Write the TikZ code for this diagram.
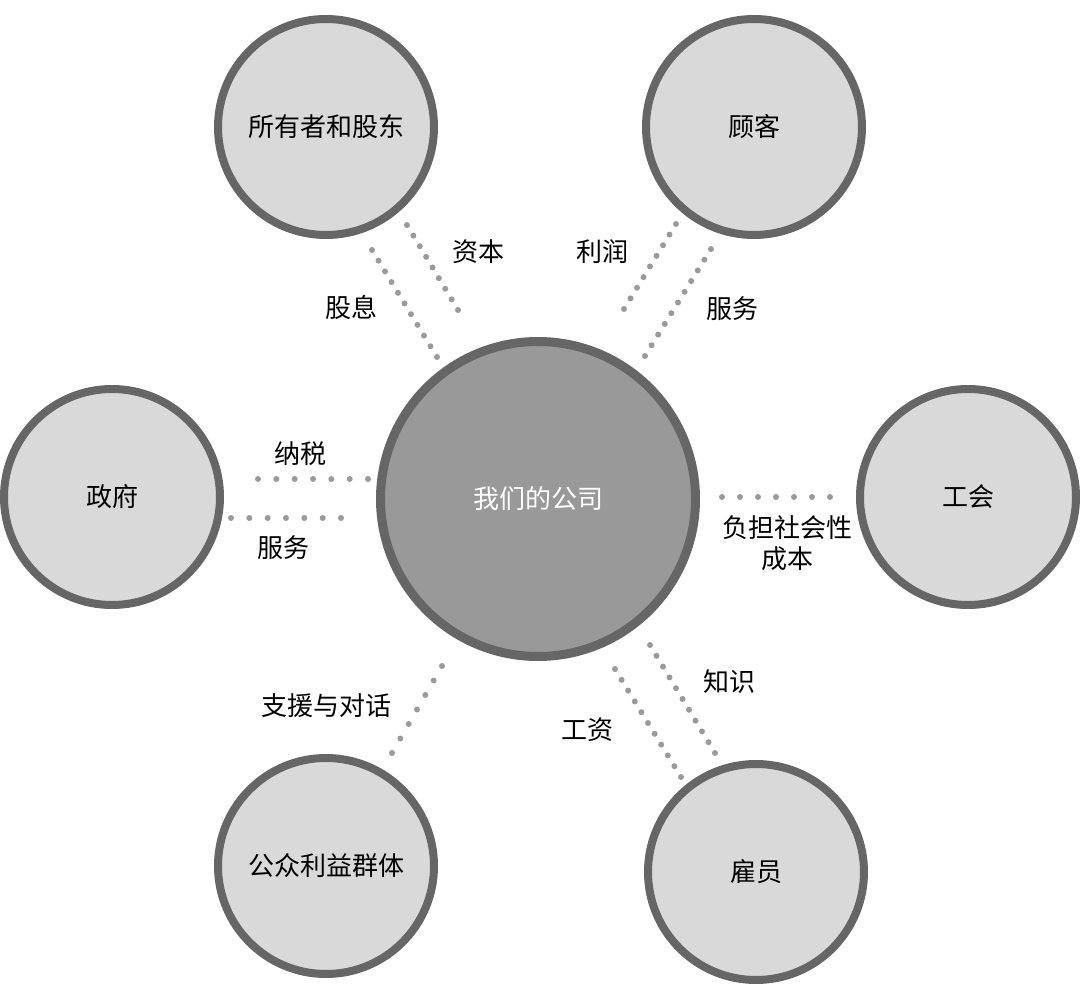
\documentclass[tikz,border=0pt]{standalone}
\usepackage{fontspec}
\newfontfamily\cjk{Noto Sans CJK SC}
\usetikzlibrary{calc}
\definecolor{ringgray}{HTML}{666666}
\definecolor{hubgray}{HTML}{999999}
\definecolor{petalgray}{HTML}{D9D9D9}
\definecolor{dotgray}{HTML}{9A9A9A}
\tikzset{
  petal/.style={circle, draw=ringgray, fill=petalgray, line width=8pt, minimum size=216pt, inner sep=0pt, font=\cjk\fontsize{26}{31}\selectfont},
  hub/.style={circle, draw=ringgray, fill=hubgray, line width=9pt, minimum size=315pt, inner sep=0pt, text=white, font=\cjk\fontsize{26}{31}\selectfont},
  flbl/.style={font=\cjk\fontsize{26}{31}\selectfont, align=center, inner sep=0pt},
}
% dotted link: from, to, number of gaps
\newcommand{\dotrow}[3]{%
  \foreach \k in {0,...,#3} \fill[dotgray] ($(#1)!\k/#3!(#2)$) circle (3pt);}

\begin{document}
\begin{tikzpicture}[x=1pt,y=-1pt]
  \useasboundingbox (0,0) rectangle (1080,1000);

  \node[hub]   (co)   at (538,499) {我们的公司};     % centre
  \node[petal] (own)  at (326,127) {所有者和股东};   % top left
  \node[petal] (cust) at (754,127) {顾客};           % top right
  \node[petal] (gov)  at (112,497) {政府};           % left
  \node[petal] (uni)  at (968,497) {工会};           % right
  \node[petal] (pub)  at (326,866) {公众利益群体};   % bottom left
  \node[petal] (emp)  at (756,872) {雇员};           % bottom right

  % ends of the dotted links
  \coordinate (divA) at (372,250);  \coordinate (divB) at (437,357);
  \coordinate (capA) at (407,225);  \coordinate (capB) at (458,310);
  \coordinate (proA) at (676,224);  \coordinate (proB) at (624,309);
  \coordinate (svcA) at (711,249);  \coordinate (svcB) at (645,356);
  \coordinate (taxA) at (258,479);  \coordinate (taxB) at (368,479);
  \coordinate (govA) at (231,518);  \coordinate (govB) at (341,518);
  \coordinate (socA) at (722,497);  \coordinate (socB) at (830,497);
  \coordinate (supA) at (442,666);  \coordinate (supB) at (392,753);
  \coordinate (knoA) at (650,645);  \coordinate (knoB) at (715,753);
  \coordinate (wagA) at (615,669);  \coordinate (wagB) at (681,777);

  \dotrow{divA}{divB}{10}
  \dotrow{capA}{capB}{8}
  \dotrow{proA}{proB}{8}
  \dotrow{svcA}{svcB}{10}
  \dotrow{taxA}{taxB}{6}
  \dotrow{govA}{govB}{6}
  \dotrow{socA}{socB}{6}
  \dotrow{supA}{supB}{6}
  \dotrow{knoA}{knoB}{10}
  \dotrow{wagA}{wagB}{10}

  % link labels
  \node[flbl] (lDiv) at (351,308) {股息};
  \node[flbl] (lCap) at (478,252) {资本};
  \node[flbl] (lPro) at (602,252) {利润};
  \node[flbl] (lSvc) at (732,309) {服务};
  \node[flbl] (lTax) at (300,454) {纳税};
  \node[flbl] (lGov) at (283,548) {服务};
  \node[flbl] (lSoc) at (787,543) {负担社会性\\成本};
  \node[flbl] (lSup) at (326,706) {支援与对话};
  \node[flbl] (lKno) at (729,682) {知识};
  \node[flbl] (lWag) at (587,730) {工资};
\end{tikzpicture}
\end{document}
